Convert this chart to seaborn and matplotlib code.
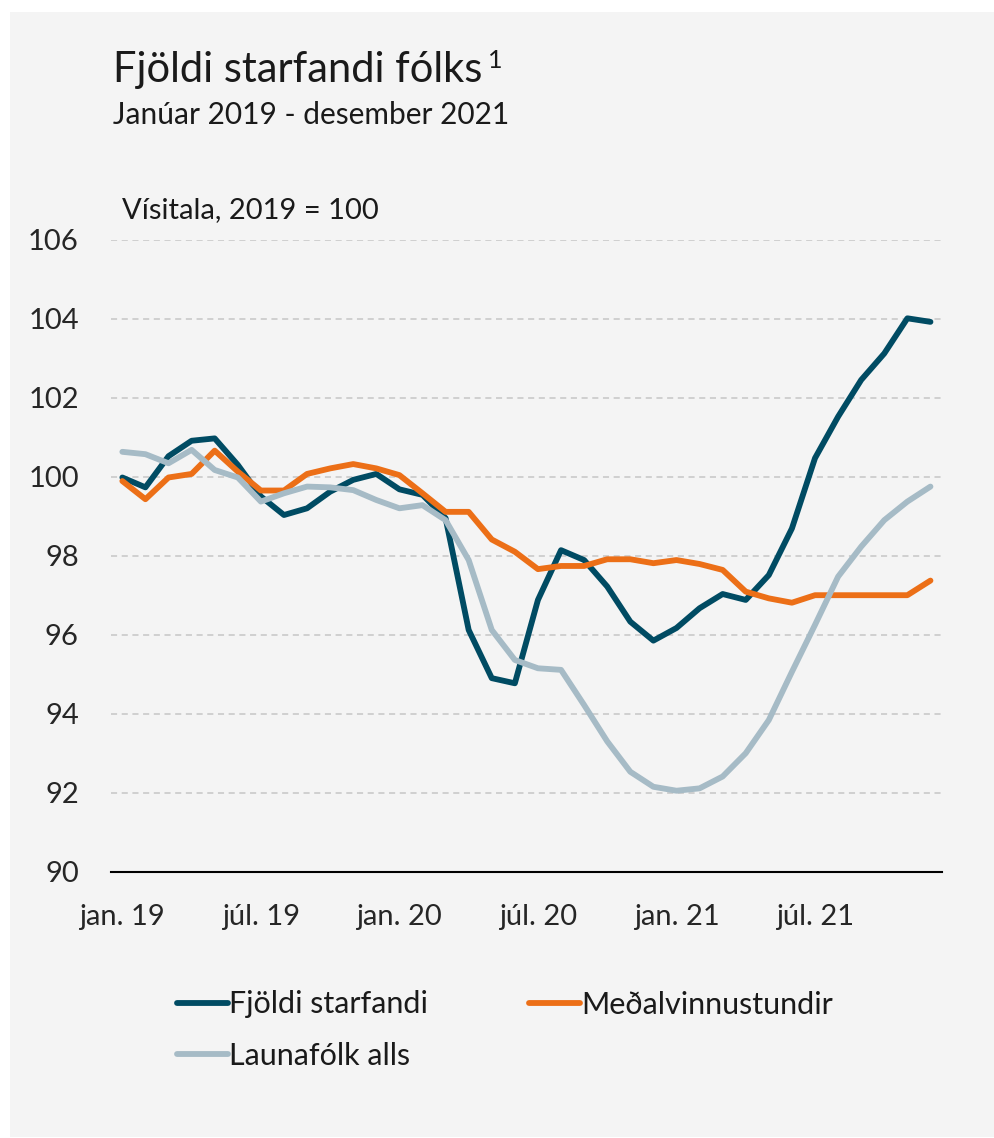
"""
plot.py - Fjöldi starfandi fólks, Janúar 2019 - desember 2021 (index, 2019 = 100).
"""

import numpy as np
import pandas as pd
import matplotlib.pyplot as plt
from matplotlib.lines import Line2D
from matplotlib.patches import Rectangle
import seaborn as sns

# Data, monthly jan 2019 - dec 2021
MONTHS = list(range(36))
FJOLDI_STARFANDI = [99.98, 99.73, 100.52, 100.91, 100.97, 100.30, 99.50, 99.03, 99.20, 99.62,
                    99.92, 100.07, 99.68, 99.54, 98.95, 96.12, 94.90, 94.77, 96.88, 98.14,
                    97.89, 97.22, 96.33, 95.85, 96.17, 96.67, 97.03, 96.88, 97.51, 98.69,
                    100.47, 101.52, 102.45, 103.12, 104.01, 103.92]
MEDALVINNUSTUNDIR = [99.89, 99.43, 99.98, 100.07, 100.66, 100.13, 99.65, 99.65, 100.07, 100.21,
                     100.32, 100.21, 100.04, 99.58, 99.11, 99.11, 98.41, 98.10, 97.66, 97.74,
                     97.74, 97.91, 97.91, 97.81, 97.89, 97.79, 97.64, 97.09, 96.92, 96.81,
                     97.00, 97.00, 97.00, 97.00, 97.00, 97.37]
LAUNAFOLK_ALLS = [100.63, 100.57, 100.34, 100.68, 100.17, 99.98, 99.37, 99.58, 99.75, 99.73,
                  99.66, 99.41, 99.20, 99.28, 98.90, 97.89, 96.12, 95.36, 95.15, 95.11,
                  94.22, 93.30, 92.53, 92.15, 92.05, 92.11, 92.41, 93.00, 93.84, 95.06,
                  96.25, 97.47, 98.23, 98.90, 99.37, 99.75]

SERIES = ['Fjöldi starfandi', 'Meðalvinnustundir', 'Launafólk alls']
COLORS = ['#004B63', '#EC6F17', '#A6BBC6']
TICK_LABELS = ['jan. 19', 'júl. 19', 'jan. 20', 'júl. 20', 'jan. 21', 'júl. 21']
Y_TICKS = [90, 92, 94, 96, 98, 100, 102, 104, 106]

BG = '#F4F4F4'
FS = 21


def main():
    df = pd.DataFrame({
        'month': MONTHS * 3,
        'value': FJOLDI_STARFANDI + MEDALVINNUSTUNDIR + LAUNAFOLK_ALLS,
        'series': np.repeat(SERIES, len(MONTHS)),
    })

    sns.set_theme(style="white")
    plt.rcParams['font.family'] = ['Lato', 'DejaVu Sans']
    plt.rcParams['text.color'] = '#1A1A1A'

    W, H = 995, 1138
    fig = plt.figure(figsize=(W / 100, H / 100), dpi=100, facecolor='white')
    # grey panel behind everything
    fig.patches.append(Rectangle((10 / W, 1 / H), 1 - 10 / W, 1 - 13 / H,
                                 transform=fig.transFigure, facecolor=BG,
                                 edgecolor='none', zorder=-10))

    ax = fig.add_axes([110.8 / W, 1 - 871.7 / H, (942 - 110.8) / W, (871.7 - 239.7) / H])
    ax.set_facecolor(BG)

    sns.lineplot(data=df, x='month', y='value', hue='series', hue_order=SERIES,
                 palette=COLORS, linewidth=4.2, ax=ax, legend=False)

    ax.set_xlim(-0.5, 35.5)
    ax.set_ylim(90, 106)
    ax.set_yticks(Y_TICKS)
    ax.set_yticklabels([str(v) for v in Y_TICKS], fontsize=FS)
    ax.tick_params(axis='y', length=0, pad=23)

    # tick marks between categories, labels under the month points
    ax.set_xticks(np.arange(-0.5, 36, 6))
    ax.set_xticklabels([])
    ax.tick_params(axis='x', which='major', length=8, width=1.3, color='black', direction='out')
    ax.set_xticks(np.arange(0, 36, 6), minor=True)
    ax.set_xticklabels(TICK_LABELS, minor=True, fontsize=FS)
    ax.tick_params(axis='x', which='minor', length=0, pad=23)
    ax.set_xlabel('')
    ax.set_ylabel('')

    ax.yaxis.grid(True, linestyle=(0, (4, 3)), color='#C6C6C6', linewidth=1.1)
    ax.set_axisbelow(True)
    for side in ['top', 'right', 'left']:
        ax.spines[side].set_visible(False)
    ax.spines['bottom'].set_color('black')
    ax.spines['bottom'].set_linewidth(1.5)
    ax.spines['bottom'].set_zorder(5)

    # titles
    fig.text(113 / W, 1 - 70 / H, 'Fjöldi starfandi fólks', fontsize=30, va='center', ha='left')
    fig.text(488 / W, 1 - 60 / H, '1', fontsize=18, va='center', ha='left')
    fig.text(113 / W, 1 - 115 / H, 'Janúar 2019 - desember 2021', fontsize=21.5, va='center', ha='left')
    fig.text(122 / W, 1 - 210 / H, 'Vísitala, 2019 = 100', fontsize=FS, va='center', ha='left')

    # legend: column 1 holds Fjöldi + Launafólk, column 2 holds Meðalvinnustundir
    handles = [Line2D([], [], color=COLORS[i], linewidth=4.2, solid_capstyle='round') for i in range(3)]
    order = [0, 2, 1]
    fig.legend([handles[i] for i in order], [SERIES[i] for i in order],
               loc='upper left', bbox_to_anchor=(150 / W, 1 - 963 / H), ncol=2,
               frameon=False, fontsize=22, handlelength=1.65, handletextpad=0.05,
               columnspacing=3.3, labelspacing=0.76)

    plt.savefig('out.png', dpi=100, facecolor='white')
    plt.close()


if __name__ == '__main__':
    main()
